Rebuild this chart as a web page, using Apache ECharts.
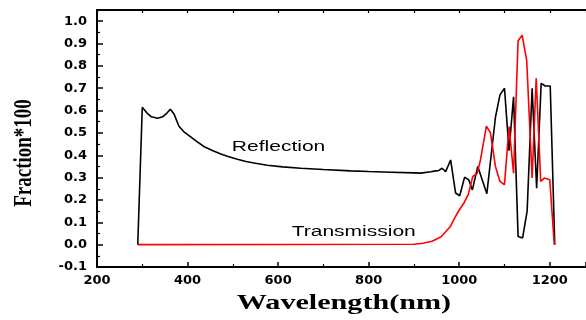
<!DOCTYPE html>
<html>
<head>
<meta charset="utf-8">
<script src="https://cdn.jsdelivr.net/npm/echarts@6/dist/echarts.min.js"></script>
<style>
html,body{margin:0;padding:0;background:#fff;}
#chart{width:586px;height:320px;}
</style>
</head>
<body>
<div id="chart"></div>
<script>
// Reflection (black)
var reflWavelength = [290, 300, 310, 320, 334, 345, 355, 362, 370, 381, 392, 407, 420, 437, 456, 475, 488, 510, 529, 550, 576, 610, 650, 700, 760, 800, 850, 900, 915, 937, 948, 955, 962, 970, 981, 992, 1001, 1012, 1021, 1029, 1041, 1061, 1080, 1090, 1100, 1110, 1120, 1130, 1140, 1150, 1161, 1171, 1181, 1190, 1201, 1211];
var reflValues = [0, 0.615, 0.59, 0.572, 0.566, 0.572, 0.59, 0.606, 0.585, 0.530, 0.505, 0.482, 0.462, 0.438, 0.420, 0.405, 0.396, 0.382, 0.372, 0.364, 0.355, 0.348, 0.342, 0.336, 0.330, 0.327, 0.324, 0.321, 0.320, 0.326, 0.330, 0.332, 0.342, 0.327, 0.379, 0.231, 0.219, 0.302, 0.290, 0.245, 0.350, 0.228, 0.570, 0.670, 0.700, 0.420, 0.662, 0.037, 0.030, 0.150, 0.700, 0.253, 0.722, 0.710, 0.710, 0];
// Transmission (red)
var transWavelength = [290, 900, 920, 940, 960, 980, 990, 1000, 1010, 1020, 1030, 1040, 1047, 1060, 1069, 1080, 1090, 1100, 1110, 1120, 1130, 1139, 1149, 1161, 1170, 1180, 1188, 1200, 1210];
var transValues = [0, 0.002, 0.006, 0.015, 0.035, 0.08, 0.12, 0.155, 0.185, 0.225, 0.305, 0.32, 0.38, 0.53, 0.50, 0.35, 0.283, 0.268, 0.528, 0.32, 0.912, 0.937, 0.826, 0.298, 0.744, 0.283, 0.298, 0.29, 0];
// Tick labels
var xTicks = [200, 400, 600, 800, 1000, 1200];
var yTicks = ['-0.1', '0.0', '0.1', '0.2', '0.3', '0.4', '0.5', '0.6', '0.7', '0.8', '0.9', '1.0'];
var xTitle = 'Wavelength(nm)';
var yTitle = 'Fraction*100';
var annotations = [
  {text: 'Reflection', at: [601, 0.438]},
  {text: 'Transmission', at: [767, 0.054]}
];

function pairs(xs, ys) { return xs.map(function (x, i) { return [x, ys[i]]; }); }

var chart = echarts.init(document.getElementById('chart'), null, {renderer: 'canvas'});
var tickFont = {fontFamily: 'DejaVu Sans', fontWeight: 'bold', fontSize: 13, color: '#000'};

var option = {
  animation: false,
  backgroundColor: '#fff',
  grid: {left: 97, right: 0, top: 10, bottom: 53, containLabel: false},
  xAxis: [{
    type: 'value', min: 200, max: 1280, interval: 200, position: 'bottom',
    axisLine: {show: true, onZero: false, lineStyle: {color: '#000', width: 2}},
    axisTick: {show: true, inside: true, length: 5, lineStyle: {color: '#000', width: 1.5}},
    minorTick: {show: true, splitNumber: 2, length: 3, lineStyle: {color: '#000', width: 1.2}},
    splitLine: {show: false},
    axisLabel: Object.assign({
      margin: 7, showMaxLabel: false,
      formatter: function (v) { return xTicks.indexOf(v) >= 0 ? String(v) : ''; }
    }, tickFont)
  }, {
    type: 'value', min: 200, max: 1280, interval: 100, position: 'top',
    axisLine: {show: true, onZero: false, lineStyle: {color: '#000', width: 2}},
    axisTick: {show: true, inside: true, length: 3, lineStyle: {color: '#000', width: 1.2}},
    splitLine: {show: false},
    axisLabel: {show: false}
  }],
  yAxis: [{
    type: 'value', min: -0.1, max: 1.05, interval: 0.1,
    axisLine: {show: true, onZero: false, lineStyle: {color: '#000', width: 2}},
    axisTick: {show: true, inside: true, length: 6, lineStyle: {color: '#000', width: 1.5}},
    minorTick: {show: true, splitNumber: 2, length: 3, lineStyle: {color: '#000', width: 1.2}},
    splitLine: {show: false},
    axisLabel: Object.assign({
      margin: 10, showMaxLabel: false,
      formatter: function (v) {
        var s = v.toFixed(1);
        if (s === '-0.0') s = '0.0';
        return yTicks.indexOf(s) >= 0 ? s : '';
      }
    }, tickFont)
  }],
  series: [{
    name: 'Reflection', type: 'line', xAxisIndex: 0, yAxisIndex: 0,
    data: pairs(reflWavelength, reflValues), showSymbol: false, smooth: false,
    lineStyle: {color: '#000', width: 1.6}, itemStyle: {color: '#000'}, z: 2
  }, {
    name: 'Transmission', type: 'line', xAxisIndex: 0, yAxisIndex: 0,
    data: pairs(transWavelength, transValues), showSymbol: false, smooth: false,
    lineStyle: {color: '#ff0000', width: 1.6}, itemStyle: {color: '#ff0000'}, z: 3
  }]
};
chart.setOption(option);

var graphics = [{
  type: 'text', x: 25, y: 153, rotation: Math.PI / 2, scaleY: 1.3,
  style: {text: yTitle, font: 'bold 19px "Liberation Serif"', fill: '#000', textAlign: 'center', textVerticalAlign: 'middle'}
}, {
  type: 'text', x: 344, y: 303, scaleX: 1.37,
  style: {text: xTitle, font: 'bold 22px "Liberation Serif"', fill: '#000', textAlign: 'center', textVerticalAlign: 'middle'}
}];
annotations.forEach(function (a) {
  var p = chart.convertToPixel({gridIndex: 0}, a.at);
  graphics.push({
    type: 'text', x: p[0], y: p[1], scaleX: 1.5,
    style: {text: a.text, font: '14px "Liberation Sans"', fill: '#000', textAlign: 'center', textVerticalAlign: 'middle'}
  });
});
chart.setOption({graphic: graphics});
</script>
</body>
</html>
